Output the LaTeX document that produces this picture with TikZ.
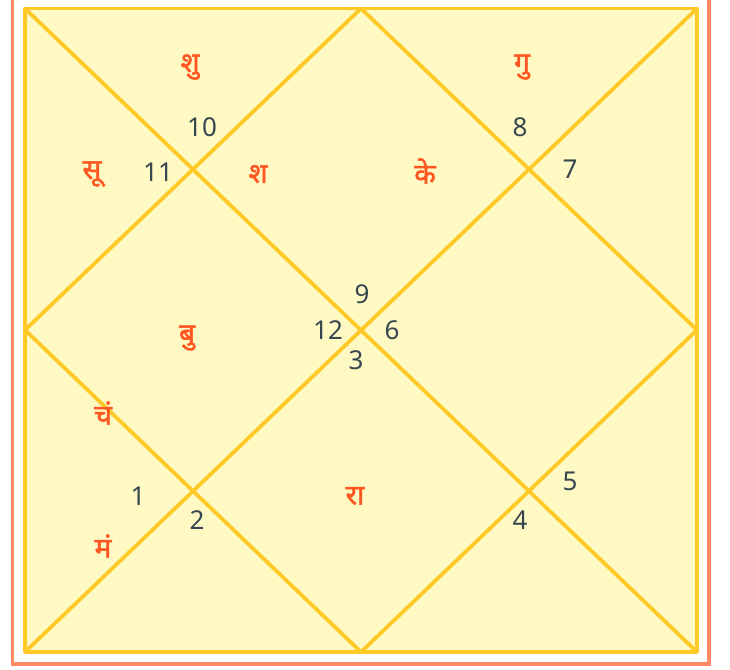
\documentclass[tikz,border=0pt]{standalone}
\usepackage{fontspec}
\setmainfont{Noto Sans}
\newfontfamily\dev[Script=Devanagari,FakeBold=1.8]{Noto Sans}
\definecolor{borderorange}{HTML}{FF8A65}
\definecolor{chartfill}{HTML}{FFF9C4}
\definecolor{chartline}{HTML}{FFCA28}
\definecolor{planet}{HTML}{FF5722}
\definecolor{numtxt}{HTML}{37474F}
\tikzset{
  house/.style={draw=chartline, line width=3.8pt, line cap=round, line join=round},
  pl/.style={text=planet, font=\dev\fontsize{28}{32}\selectfont, inner sep=0pt},
  num/.style={text=numtxt, font=\fontsize{26}{30}\selectfont, inner sep=0pt}
}
\begin{document}
\begin{tikzpicture}[x=1pt,y=-1pt]
\useasboundingbox (0,0) rectangle (730,669);
\clip (0,0) rectangle (730,669);
\draw[draw=borderorange, line width=3.2pt] (12.5,-10) rectangle (709,664);
% corners and midpoints
\coordinate (tl) at (25,8.5);
\coordinate (tr) at (697,8.5);
\coordinate (bl) at (25,652);
\coordinate (br) at (697,652);
\coordinate (tm) at (361,8.5);
\coordinate (bm) at (361,652);
\coordinate (lm) at (25,330);
\coordinate (rm) at (697,330);
\fill[chartfill] (tl) rectangle (br);
\draw[house] (tl) -- (tr) -- (br) -- (bl) -- cycle;
\draw[house] (tl) -- (br);
\draw[house] (tr) -- (bl);
\draw[house] (tm) -- (rm) -- (bm) -- (lm) -- cycle;
% planets
\node[pl] (shu) at (190,67) {शु};
\node[pl] (gu) at (522,67) {गु};
\node[pl] (su) at (92,174) {सू};
\node[pl] (sha) at (258,174) {श};
\node[pl] (ke) at (425,171) {के};
\node[pl] (bu) at (187,338) {बु};
\node[pl] (cha) at (103,413) {चं};
\node[pl] (ra) at (355,496) {रा};
\node[pl] (ma) at (103,546) {मं};
% house numbers
\node[num] (n10) at (202,127) {10};
\node[num] (n8) at (520,127) {8};
\node[num] (n11) at (158,172) {11};
\node[num] (n7) at (570,169) {7};
\node[num] (n9) at (362,294) {9};
\node[num] (n12) at (328,330) {12};
\node[num] (n6) at (392,330) {6};
\node[num] (n3) at (356,360) {3};
\node[num] (n1) at (138,496) {1};
\node[num] (n5) at (570,481) {5};
\node[num] (n2) at (197,520) {2};
\node[num] (n4) at (520,520) {4};
\end{tikzpicture}
\end{document}
